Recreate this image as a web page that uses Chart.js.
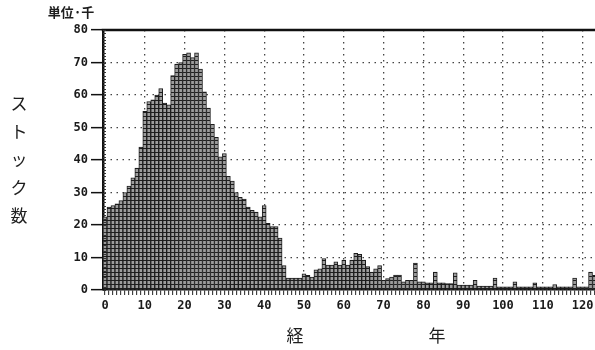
<!DOCTYPE html>
<html>
<head>
<meta charset="utf-8">
<script src="https://cdn.jsdelivr.net/npm/chart.js@4.4.1/dist/chart.umd.min.js"></script>
<style>
html, body { margin: 0; padding: 0; background: #fff; overflow: hidden; }
</style>
</head>
<body>
<canvas id="myChart" width="600" height="350"></canvas>
<script>
// stock (thousands) by elapsed years, index = year
const stock = [
  22.5, 25.5, 26, 26.5, 27.5, 30, 32, 34.5, 37.5, 44,
  55, 58, 58.5, 60, 62, 57.5, 57, 66, 69.5, 70,
  72.5, 73, 71.5, 73, 68, 61, 56, 51, 47, 41,
  42, 35, 33.5, 30, 28.5, 28, 25.5, 24.5, 24, 22.5,
  26, 20.5, 19.5, 19.5, 16, 7.5, 3.7, 3.7, 3.7, 3.7,
  5, 4.5, 4, 6.2, 6.5, 9.7, 7.7, 7.7, 8.7, 7.7,
  9.2, 7.7, 9.2, 11.3, 11, 9.2, 7.2, 5.5, 6.5, 7.5,
  3, 3.5, 4, 4.6, 4.6, 2.5, 3, 3, 8.3, 2.5,
  2.5, 2.2, 2.2, 5.5, 2.2, 2.2, 2, 2, 5.3, 1.5,
  1.5, 1.5, 1.5, 3, 1.2, 1.2, 1.2, 1.2, 3.7, 1,
  1, 1, 1, 2.5, 1, 1, 1, 1, 2.2, 1,
  1, 1, 1, 1.7, 1, 1, 1, 1, 3.7, 1,
  1, 1, 5.5, 4.5
];
const years = stock.map((v, i) => i);
const yTickValues = [0, 10, 20, 30, 40, 50, 60, 70, 80];
const xLabelEvery = 10;
const unitLabel = '単位·千';
const yTitle = ['ス', 'ト', 'ッ', 'ク', '数'];
const xTitle = ['経', '年'];

const canvas = document.getElementById('myChart');

// little brick pattern for the bar fill
const cell = document.createElement('canvas');
cell.width = 1;
cell.height = 4;
const cctx = cell.getContext('2d');
cctx.fillStyle = '#9c9c9c';
cctx.fillRect(0, 0, 1, 4);
cctx.fillStyle = '#1e1e1e';
cctx.fillRect(0, 0, 1, 1);
const barFill = canvas.getContext('2d').createPattern(cell, 'repeat');

const monoFont = { family: '"DejaVu Sans Mono", "Liberation Mono", monospace', size: 12, weight: 'bold' };

const frame = {
  id: 'frame',
  afterDraw(chart) {
    const { ctx, chartArea: a, scales: { y } } = chart;
    ctx.save();
    // heavy top edge
    ctx.strokeStyle = '#111';
    ctx.lineWidth = 2.5;
    ctx.beginPath();
    ctx.moveTo(a.left - 1.2, a.top);
    ctx.lineTo(a.right, a.top);
    ctx.stroke();
    // short inner marks on the value axis, one per unit
    ctx.strokeStyle = '#333';
    ctx.lineWidth = 1;
    ctx.beginPath();
    for (let v = y.min; v <= y.max; v++) {
      const py = Math.round(y.getPixelForValue(v)) + 0.5;
      ctx.moveTo(a.left, py);
      ctx.lineTo(a.left + 3, py);
    }
    ctx.stroke();

    ctx.fillStyle = '#1e1e1e';
    ctx.textAlign = 'center';
    ctx.textBaseline = 'middle';
    ctx.font = 'bold 13px "Noto Sans CJK JP"';
    ctx.fillText(unitLabel, 71, 12);

    ctx.font = '17px "Noto Sans CJK JP"';
    const mid = (a.top + a.bottom) / 2;
    yTitle.forEach((ch, i) => ctx.fillText(ch, 19, mid + (i - 2) * 28));
    ctx.fillText(xTitle[0], 295, 336);
    ctx.fillText(xTitle[1], 437, 336);
    ctx.restore();
  }
};

const data = {
  labels: years,
  datasets: [{
    data: stock,
    backgroundColor: barFill,
    borderColor: '#1c1c1c',
    borderWidth: 1,
    barPercentage: 1,
    categoryPercentage: 1
  }]
};

const config = {
  type: 'bar',
  data,
  options: {
    responsive: false,
    animation: false,
    layout: { padding: { top: 30, right: 3.5, left: 0, bottom: 0 } },
    plugins: {
      legend: { display: false },
      tooltip: { enabled: false }
    },
    scales: {
      x: {
        offset: true,
        grid: {
          offset: false,
          color: c => (c.index > 0 && c.index % xLabelEvery === 0) ? '#444' : 'rgba(0,0,0,0)',
          lineWidth: 1.3,
          tickLength: 5,
          tickColor: '#222',
          tickWidth: 1
        },
        border: { display: true, color: '#111', width: 1.5, dash: [1.5, 4.5] },
        ticks: {
          autoSkip: false,
          maxRotation: 0,
          minRotation: 0,
          padding: 4,
          color: '#1a1a1a',
          font: monoFont,
          callback: (v, i) => i % xLabelEvery === 0 ? String(years[i]) : ''
        },
        afterFit: s => { s.height = 60; }
      },
      y: {
        min: yTickValues[0],
        max: yTickValues[yTickValues.length - 1],
        afterBuildTicks: s => { s.ticks = yTickValues.map(v => ({ value: v })); },
        grid: {
          color: c => (c.tick && c.tick.value > 0 && c.tick.value < 80) ? '#444' : 'rgba(0,0,0,0)',
          lineWidth: 1.3,
          tickLength: 12,
          tickColor: '#111',
          tickWidth: 1.5
        },
        border: { display: true, color: '#111', width: 2.5, dash: [1.5, 4.5] },
        ticks: {
          padding: 3,
          color: '#1a1a1a',
          font: monoFont
        },
        afterFit: s => { s.width = 103; }
      }
    }
  },
  plugins: [frame]
};

const myChart = new Chart(canvas, config);
</script>
</body>
</html>
